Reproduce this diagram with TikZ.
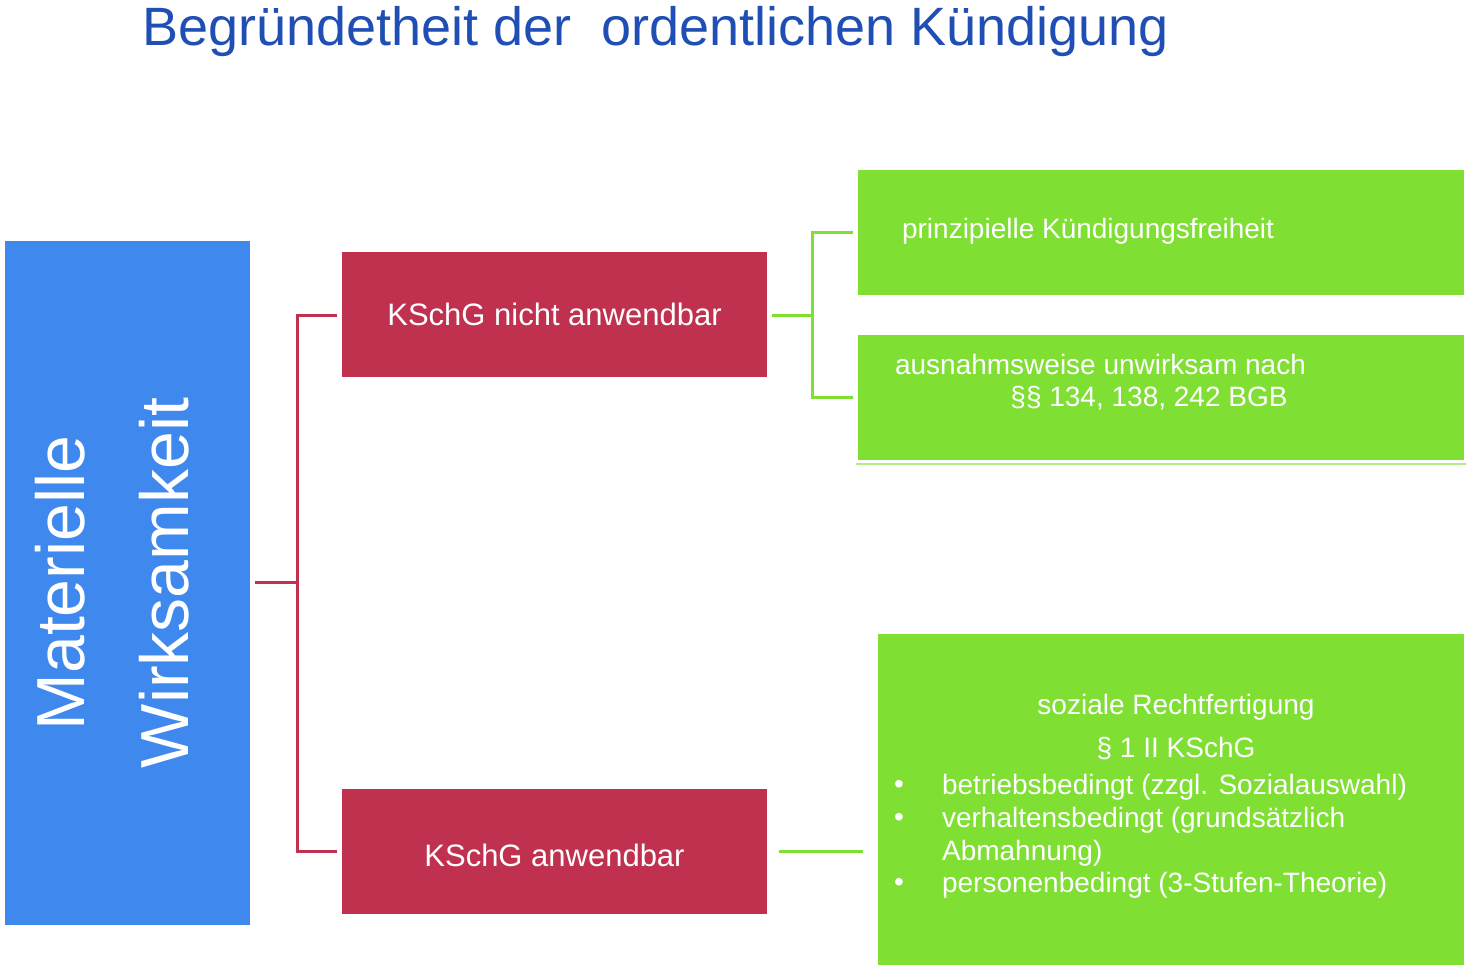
\documentclass[tikz,border=0pt]{standalone}
\usepackage{fontspec}
\setmainfont{Liberation Sans}
\definecolor{tblue}{HTML}{1F4EB4}
\definecolor{bbox}{HTML}{3F88EE}
\definecolor{rbox}{HTML}{C0304F}
\definecolor{gbox}{HTML}{80DF33}
\begin{document}
\begin{tikzpicture}[x=0.5pt,y=-0.5pt,
  txt/.style={text=white,font=\fontsize{14}{16}\selectfont},
  rline/.style={draw=rbox,line width=1.5pt},
  gline/.style={draw=gbox,line width=1.5pt}]
\useasboundingbox (0,0) rectangle (1471,971);
\node[anchor=west,text=tblue,font=\fontsize{27}{30}\selectfont,inner sep=0] (title) at (142,32) {Begründetheit der\ \ ordentlichen Kündigung};
\fill[bbox] (5,241) rectangle (250,925);
\node[rotate=90,text=white,font=\fontsize{34}{52}\selectfont,align=center] (mw) at (112,583) {Materielle\\Wirksamkeit};
\coordinate (mwr) at (255,582);
\fill[rbox] (342,252) rectangle (767,377);
\node[txt,font=\fontsize{15.5}{18}\selectfont] (r1) at (554.5,314.5) {KSchG nicht anwendbar};
\fill[rbox] (342,789) rectangle (767,914);
\node[txt,font=\fontsize{15.5}{18}\selectfont] (r2) at (554.5,855) {KSchG anwendbar};
\draw[rline] (mwr) -- (297,582);
\draw[rline] (337,315) -- (297,315) -- (297,851) -- (337,851);
\fill[gbox] (858,170) rectangle (1464,295);
\node[txt,anchor=west] (g1) at (895,231) {prinzipielle Kündigungsfreiheit};
\fill[gbox] (858,335) rectangle (1464,460);
\node[txt,anchor=west] (g2a) at (888,364) {ausnahmsweise unwirksam nach};
\node[txt] (g2b) at (1149,398) {§§ 134, 138, 242 BGB};
\draw[gbox!60,line width=0.6pt] (856,464) -- (1466,464);
\fill[gbox] (878,634) rectangle (1464,965);
\node[txt] (g3a) at (1176,707) {soziale Rechtfertigung};
\node[txt] (g3b) at (1176,749) {§ 1 II KSchG};
\foreach \y/\t in {787/{betriebsbedingt (zzgl. Sozialauswahl)},820/{verhaltensbedingt (grundsätzlich},885/{personenbedingt (3-Stufen-Theorie)}}{
  \node[txt,anchor=west] at (887,\y) {•};
  \node[txt,anchor=west] at (935,\y) {\t};}
\node[txt,anchor=west] (ab) at (935,853) {Abmahnung)};
\draw[gline] (772,315) -- (812,315);
\draw[gline] (853,232) -- (812,232) -- (812,397) -- (853,397);
\draw[gline] (779,851) -- (863,851);
\end{tikzpicture}
\end{document}
